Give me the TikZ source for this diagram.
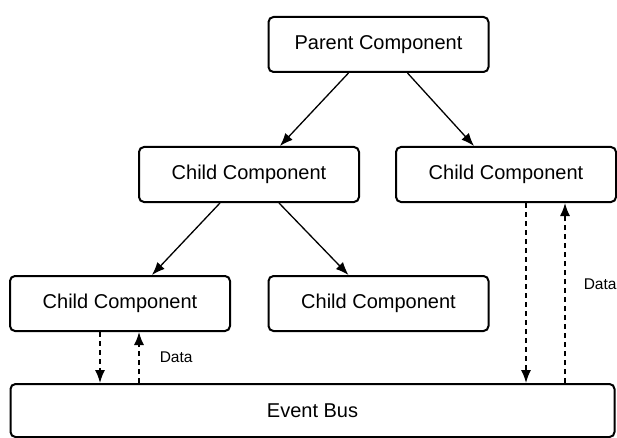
\documentclass[tikz,border=0pt]{standalone}
\usepackage{fontspec}
\setmainfont{Liberation Sans}
\usetikzlibrary{arrows.meta,positioning}

\begin{document}
\begin{tikzpicture}[x=1pt,y=1pt,>={Latex[length=13pt,width=10pt]},
  comp/.style={draw,line width=2pt,rounded corners=5pt,fill=white,minimum width=220pt,minimum height=55pt,font=\fontsize{20}{24}\selectfont},
  link/.style={->,line width=1.3pt},
  msg/.style={->,line width=1.5pt,dash pattern=on 5pt off 4pt},
  datalbl/.style={inner sep=0pt,font=\fontsize{15.5}{18}\selectfont}]
\useasboundingbox (0,0) rectangle (617,-438);
\node[comp] (parent) at (378.5,-44.5) {Parent Component};
\node[comp,below=73pt of parent,xshift=-129.5pt] (childA) {Child Component};
\node[comp,below=73pt of parent,xshift=127.5pt] (childB) {Child Component};
\node[comp,below=72pt of childA,xshift=-129pt] (childC) {Child Component};
\node[comp,below=72pt of childA,xshift=129.5pt] (childD) {Child Component};
\node[comp,minimum width=604pt,minimum height=53pt] (bus) at (312.5,-410.5) {Event Bus};
% parent to children
\draw[link] ([xshift=-30pt]parent.south) -- ([xshift=31pt]childA.north);
\draw[link] ([xshift=29pt]parent.south) -- ([xshift=-32pt]childB.north);
\draw[link] ([xshift=-29pt]childA.south) -- ([xshift=32pt]childC.north);
\draw[link] ([xshift=30pt]childA.south) -- ([xshift=-30pt]childD.north);
% event bus traffic
\draw[msg] ([xshift=-20pt]childC.south) -- ([xshift=-20pt]childC.south |- bus.north);
\draw[msg] ([xshift=19pt]childC.south |- bus.north) -- node[datalbl,right=20pt] (dataC) {Data} ([xshift=19pt]childC.south);
\draw[msg] ([xshift=20pt]childB.south) -- ([xshift=20pt]childB.south |- bus.north);
\draw[msg] ([xshift=59pt]childB.south |- bus.north) -- node[datalbl,pos=0.55,right=18pt] (dataB) {Data} ([xshift=59pt]childB.south);
\end{tikzpicture}
\end{document}
